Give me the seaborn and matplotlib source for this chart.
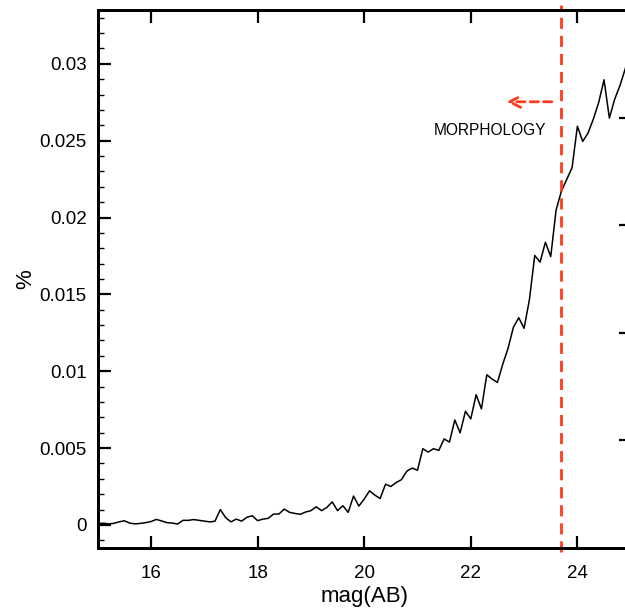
import numpy as np
import pandas as pd
import seaborn as sns
import matplotlib
matplotlib.use("Agg")
import matplotlib.pyplot as plt
from matplotlib.ticker import MultipleLocator, FuncFormatter

# magnitude bins (AB) and fraction
mag = [
    15.0, 15.1, 15.2, 15.3, 15.4, 15.5, 15.6, 15.7, 15.8, 15.9,
    16.0, 16.1, 16.2, 16.3, 16.4, 16.5, 16.6, 16.7, 16.8, 16.9,
    17.0, 17.1, 17.2, 17.3, 17.4, 17.5, 17.6, 17.7, 17.8, 17.9,
    18.0, 18.1, 18.2, 18.3, 18.4, 18.5, 18.6, 18.7, 18.8, 18.9,
    19.0, 19.1, 19.2, 19.3, 19.4, 19.5, 19.6, 19.7, 19.8, 19.9,
    20.0, 20.1, 20.2, 20.3, 20.4, 20.5, 20.6, 20.7, 20.8, 20.9,
    21.0, 21.1, 21.2, 21.3, 21.4, 21.5, 21.6, 21.7, 21.8, 21.9,
    22.0, 22.1, 22.2, 22.3, 22.4, 22.5, 22.6, 22.7, 22.8, 22.9,
    23.0, 23.1, 23.2, 23.3, 23.4, 23.5, 23.6, 23.7, 23.8, 23.9,
    24.0, 24.1, 24.2, 24.3, 24.4, 24.5, 24.6, 24.7, 24.8, 24.9,
    25.0,
]
frac = [
    0.00007, 0.00012, 0.00007, 0.00010, 0.00020, 0.00027, 0.00012, 0.00007, 0.00010, 0.00015,
    0.00022, 0.00036, 0.00026, 0.00015, 0.00012, 0.00006, 0.00030, 0.00030, 0.00035, 0.00030,
    0.00025, 0.00020, 0.00024, 0.00100, 0.00048, 0.00020, 0.00038, 0.00025, 0.00050, 0.00060,
    0.00028, 0.00038, 0.00043, 0.00071, 0.00071, 0.00103, 0.00082, 0.00075, 0.00069, 0.00084,
    0.00093, 0.00118, 0.00093, 0.00114, 0.00150, 0.00093, 0.00125, 0.00082, 0.00188, 0.00123,
    0.00168, 0.00222, 0.00194, 0.00172, 0.00265, 0.00250, 0.00276, 0.00295, 0.00350, 0.00370,
    0.00356, 0.00496, 0.00474, 0.00496, 0.00485, 0.00560, 0.00539, 0.00683, 0.00599, 0.00740,
    0.00690, 0.00847, 0.00755, 0.00977, 0.00949, 0.00927, 0.01046, 0.01150, 0.01287, 0.01348,
    0.01279, 0.01466, 0.01753, 0.01710, 0.01839, 0.01746, 0.02048, 0.02172, 0.02248, 0.02324,
    0.02594, 0.02495, 0.02550, 0.02641, 0.02749, 0.02896, 0.02647, 0.02770, 0.02860, 0.02970,
    0.03100,
]

mag_cut = 23.7
red = "#ff3b1f"

sns.set_style("ticks")
plt.rcParams["font.family"] = ["Liberation Sans", "DejaVu Sans"]
plt.rcParams["text.color"] = "black"
plt.rcParams["axes.labelcolor"] = "black"

data = pd.DataFrame({"mag(AB)": mag, "%": frac})

fig = plt.figure(figsize=(6.25, 6.11), dpi=100)
ax = fig.add_axes([0.1563, 0.1031, 0.8528, 0.8805])

sns.lineplot(data=data, x="mag(AB)", y="%", color="black", linewidth=1.1, ax=ax)

ax.set_xlim(15, 25)
ax.set_ylim(-0.0015, 0.0335)
ax.xaxis.set_major_locator(MultipleLocator(2))
ax.xaxis.set_minor_locator(MultipleLocator(0.5))
ax.yaxis.set_major_locator(MultipleLocator(0.005))
ax.yaxis.set_minor_locator(MultipleLocator(0.001))
ax.yaxis.set_major_formatter(FuncFormatter(lambda v, p: "%g" % round(v, 4)))

for s in ax.spines.values():
    s.set_linewidth(2.0)
    s.set_color("black")
ax.tick_params(which="both", direction="in", top=True, bottom=True, left=True, right=False,
               labelsize=13.5, colors="black")
ax.tick_params(which="major", length=9, width=1.6)
ax.tick_params(which="minor", length=4.5, width=1.0)
ax.tick_params(axis="x", pad=12)
ax.tick_params(axis="y", pad=8)

ax.set_xlabel("mag(AB)", fontsize=16, labelpad=3, color="black")
ax.set_ylabel("%", fontsize=16, labelpad=2, color="black")

# second scale on the right (labels fall outside the canvas)
ax2 = ax.twinx()
ax2.set_ylim(0, 5)
ax2.set_yticks([1, 2, 3, 4])
ax2.set_yticklabels([])
ax2.tick_params(axis="y", direction="in", length=9, width=1.6, colors="black")
ax2.minorticks_off()
for s in ax2.spines.values():
    s.set_linewidth(2.0)
    s.set_color("black")

# morphology limit
ax.axvline(mag_cut, ymin=-0.008, ymax=1.01, color=red, linestyle=(0, (4, 2.5)),
           linewidth=2.0, clip_on=False, zorder=5)
ax.annotate("", xy=(22.67, 0.02753), xytext=(23.52, 0.02753),
            arrowprops=dict(arrowstyle="->,head_length=0.8,head_width=0.4", color=red,
                            linewidth=2.0, linestyle=(0, (3, 1.8)), shrinkA=0, shrinkB=0))
ax.text(22.36, 0.02565, "MORPHOLOGY", fontsize=11.2, ha="center", va="center", color="black")

fig.savefig("out.png", dpi=100)
